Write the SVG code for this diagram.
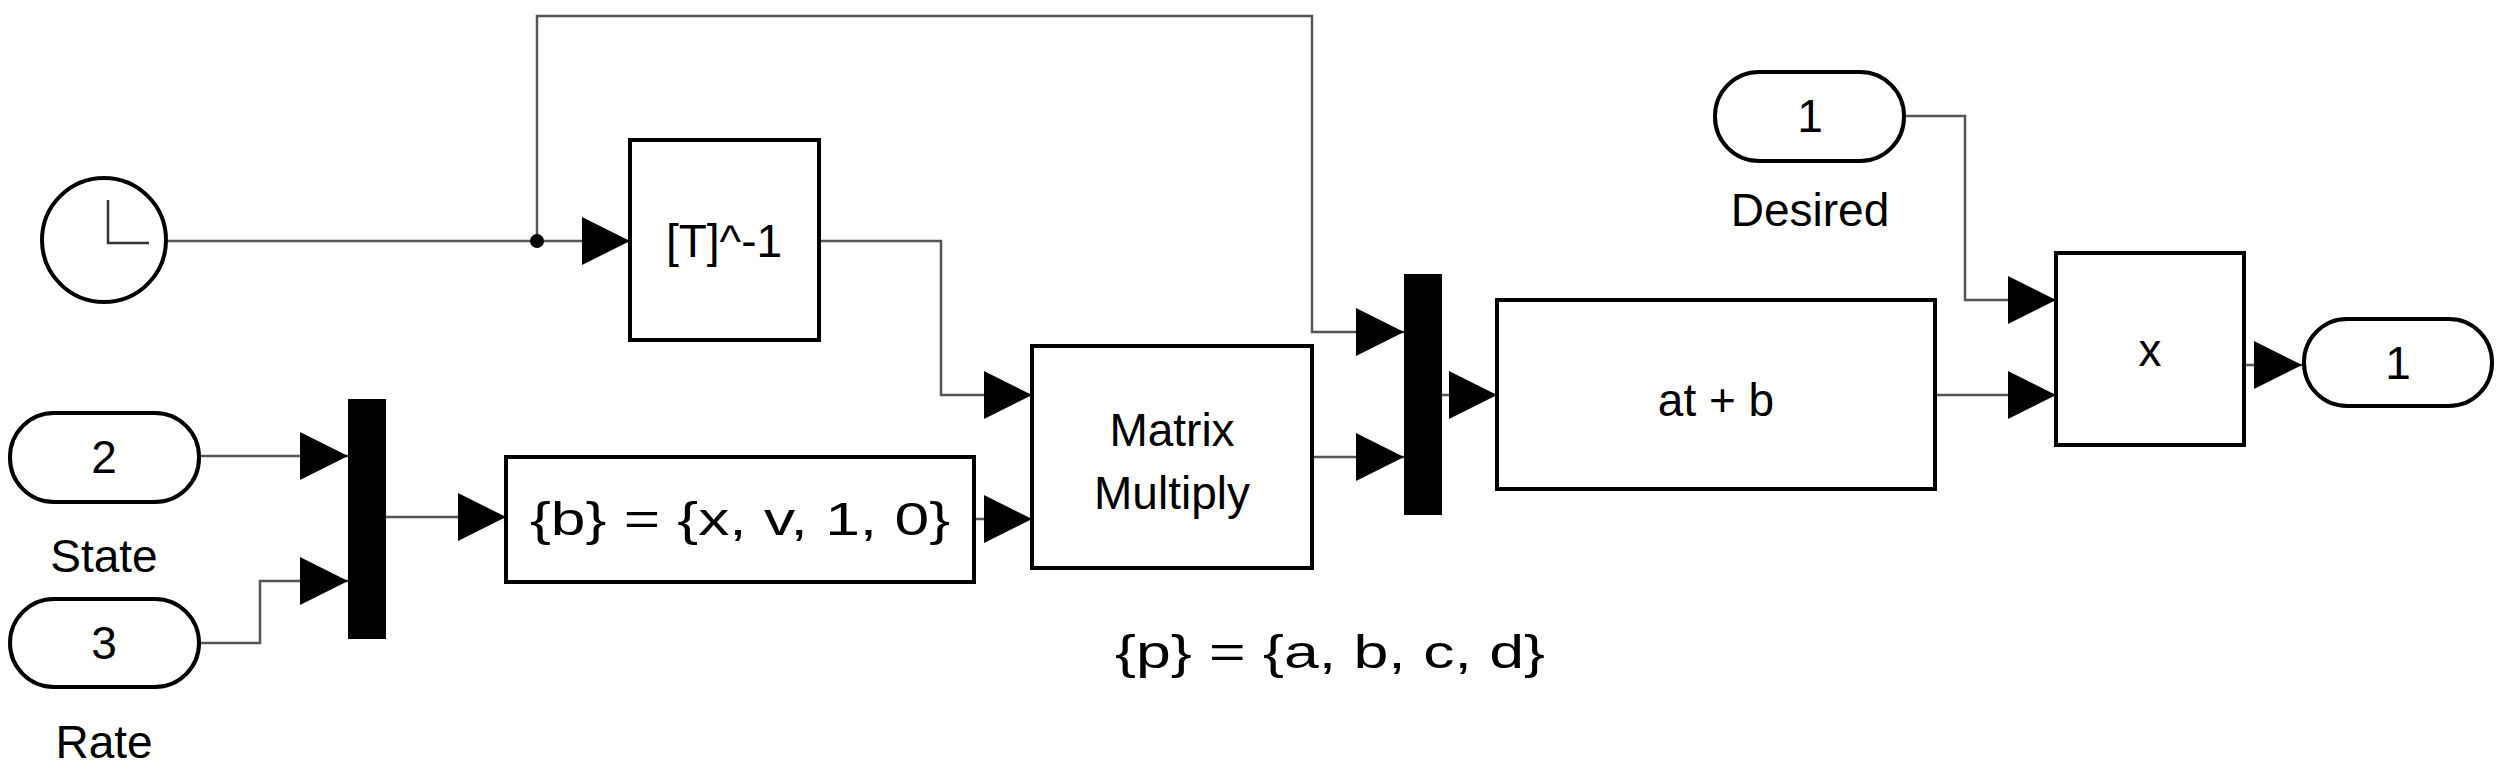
<svg xmlns="http://www.w3.org/2000/svg" width="2507" height="775" viewBox="0 0 2507 775">
<defs>
<marker id="ar" markerUnits="userSpaceOnUse" markerWidth="50" markerHeight="50" refX="48" refY="24" orient="auto"><path d="M0,0 L48,24 L0,48 z" fill="#000"/></marker>
</defs>
<style>
.b{fill:#fff;stroke:#000;stroke-width:4}
.sh{fill:#999}
.w{fill:none;stroke:#555;stroke-width:2.5}
.t{font-family:"Liberation Sans",Arial,sans-serif;font-size:46px;fill:#000;text-anchor:middle}
.bar{fill:#000}
</style>
<rect width="2507" height="775" fill="#fff"/>
<g id="connectors">
<path class="w" d="M166,241 H630" marker-end="url(#ar)"/>
<path class="w" d="M537,241 V16 H1312 V332 H1404" marker-end="url(#ar)"/>
<circle cx="537" cy="241" r="7" fill="#000"/>
<path class="w" d="M819,241 H941 V395 H1032" marker-end="url(#ar)"/>
<path class="w" d="M199,456 H348" marker-end="url(#ar)"/>
<path class="w" d="M199,643 H260 V581 H348" marker-end="url(#ar)"/>
<path class="w" d="M386,517 H506" marker-end="url(#ar)"/>
<path class="w" d="M974,519 H1032" marker-end="url(#ar)"/>
<path class="w" d="M1312,457 H1404" marker-end="url(#ar)"/>
<path class="w" d="M1442,395 H1497" marker-end="url(#ar)"/>
<path class="w" d="M1935,395 H2056" marker-end="url(#ar)"/>
<path class="w" d="M1904,116 H1965 V300 H2056" marker-end="url(#ar)"/>
<path class="w" d="M2244,365 H2302" marker-end="url(#ar)"/>
</g>
<g id="clock">
<circle cx="104" cy="240" r="62" fill="#fff" stroke="#000" stroke-width="4"/>
<path d="M108,200 V243 H149" fill="none" stroke="#333" stroke-width="2.5"/>
</g>
<g id="inv">
<rect class="b" x="630" y="140" width="189" height="200"/>
<text class="t" x="724" y="257">[T]^-1</text>
</g>
<g id="matmul">
<rect class="b" x="1032" y="346" width="280" height="222"/>
<text class="t" x="1172" y="446">Matrix</text>
<text class="t" x="1172" y="509">Multiply</text>
</g>
<g id="in2">
<rect class="b" x="10" y="413" width="189" height="89" rx="44"/>
<text class="t" x="104" y="473">2</text>
<text class="t" x="104" y="572">State</text>
</g>
<g id="in3">
<rect class="b" x="10" y="599" width="189" height="88" rx="44"/>
<text class="t" x="104" y="659">3</text>
<text class="t" x="104" y="758">Rate</text>
</g>
<g id="mux1"><rect class="bar" x="348" y="399" width="38" height="240"/></g>
<g id="bvec">
<rect class="b" x="506" y="457" width="468" height="125"/>
<text class="t" x="740" y="535" textLength="420" lengthAdjust="spacingAndGlyphs">{b} = {x, v, 1, 0}</text>
</g>
<g id="pnote"><text class="t" x="1330" y="668" textLength="430" lengthAdjust="spacingAndGlyphs">{p} = {a, b, c, d}</text></g>
<g id="mux2"><rect class="bar" x="1404" y="274" width="38" height="241"/></g>
<g id="atb">
<rect class="b" x="1497" y="300" width="438" height="189"/>
<text class="t" x="1716" y="416">at + b</text>
</g>
<g id="desired">
<rect class="b" x="1715" y="72" width="189" height="89" rx="44"/>
<text class="t" x="1810" y="132">1</text>
<text class="t" x="1810" y="226">Desired</text>
</g>
<g id="prod">
<rect class="b" x="2056" y="253" width="188" height="192"/>
<text class="t" x="2150" y="366">x</text>
</g>
<g id="out1">
<rect class="b" x="2304" y="319" width="188" height="87" rx="43"/>
<text class="t" x="2398" y="379">1</text>
</g>
</svg>
